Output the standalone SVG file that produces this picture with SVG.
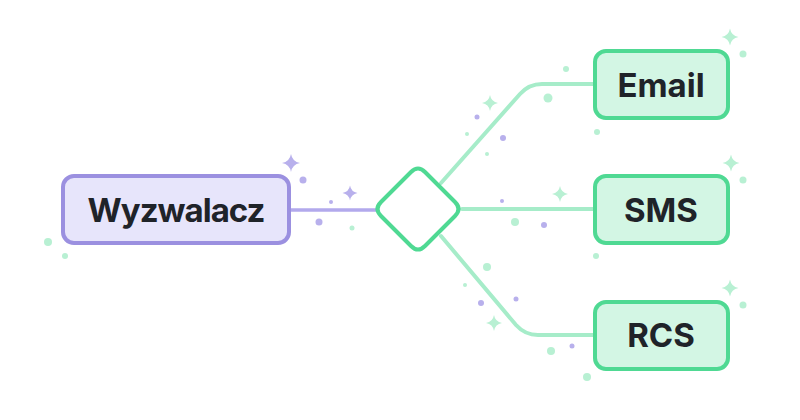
<svg xmlns="http://www.w3.org/2000/svg" width="800" height="420" viewBox="0 0 800 420">
<defs>
<style>
.lbl{font-family:Inter,"Liberation Sans",sans-serif;font-weight:700;font-size:33px;fill:#1f2329;text-anchor:middle}
.tight{letter-spacing:-1px}
.gbox{fill:#d3f6e4;stroke:#4fd993;stroke-width:4}
.pbox{fill:#e7e5fb;stroke:#9b90e0;stroke-width:4}
.gline{fill:none;stroke:#a6ecc9;stroke-width:4;stroke-linecap:round}
.pline{fill:none;stroke:#b2a9ec;stroke-width:3.5}
.gd{fill:#b8f0d3}
.pd{fill:#b8b0ec}
</style>
<path id="sp" d="M0,-1 Q0.15,-0.15 1,0 Q0.15,0.15 0,1 Q-0.15,0.15 -1,0 Q-0.15,-0.15 0,-1Z"/>
</defs>
<rect width="800" height="420" fill="#ffffff"/>
<g id="decor">
<use href="#sp" class="pd" transform="translate(291,163) scale(9)"/>
<use href="#sp" class="pd" transform="translate(350,193) scale(7.5)"/>
<circle class="pd" cx="303" cy="180" r="3.5"/>
<circle class="pd" cx="331" cy="202" r="2"/>
<circle class="pd" cx="319" cy="222" r="3.5"/>
<circle class="gd" cx="352" cy="228" r="2.5"/>
<circle class="gd" cx="48" cy="242" r="4"/>
<circle class="gd" cx="65" cy="256" r="3"/>
<circle class="gd" cx="566" cy="69" r="3"/>
<circle class="gd" cx="548" cy="98" r="4.5"/>
<use href="#sp" class="gd" transform="translate(490,103) scale(8)"/>
<circle class="pd" cx="477" cy="117" r="2.5"/>
<circle class="gd" cx="467" cy="134" r="2"/>
<circle class="pd" cx="503" cy="138" r="3"/>
<circle class="gd" cx="487" cy="154" r="2"/>
<circle class="gd" cx="597" cy="132" r="3"/>
<use href="#sp" class="gd" transform="translate(730,37) scale(8.5)"/>
<circle class="gd" cx="743" cy="54" r="3.5"/>
<use href="#sp" class="gd" transform="translate(731,163) scale(8.5)"/>
<circle class="gd" cx="743" cy="180" r="3.5"/>
<use href="#sp" class="gd" transform="translate(730,288) scale(8.5)"/>
<circle class="gd" cx="743" cy="305" r="3.5"/>
<use href="#sp" class="gd" transform="translate(560,194) scale(8)"/>
<circle class="pd" cx="502" cy="201" r="2"/>
<circle class="gd" cx="515" cy="222" r="4"/>
<circle class="pd" cx="544" cy="225" r="3"/>
<circle class="gd" cx="596" cy="256" r="3"/>
<circle class="gd" cx="487" cy="267" r="4"/>
<circle class="gd" cx="465" cy="285" r="2"/>
<circle class="pd" cx="481" cy="303" r="3"/>
<circle class="pd" cx="516" cy="299" r="2.5"/>
<use href="#sp" class="gd" transform="translate(494,323) scale(8)"/>
<circle class="gd" cx="551" cy="351" r="4"/>
<circle class="pd" cx="572" cy="346" r="2.5"/>
<circle class="gd" cx="587" cy="377" r="4"/>
</g>
<g id="connectors">
<path class="pline" d="M289,210 H376"/>
<path class="gline" d="M441,183 L520,94 Q529,84 542,84 H595"/>
<path class="gline" d="M462,209 H595"/>
<path class="gline" d="M441,236 L516,325 Q525,335 538,335 H595"/>
</g>
<g id="trigger">
<rect class="pbox" x="63" y="176" width="226" height="67" rx="11"/>
<text class="lbl tight" x="176" y="222">Wyzwalacz</text>
</g>
<g id="decision">
<path d="M411,172 Q418,165 425,172 L455,202 Q462,209 455,216 L425,246 Q418,253 411,246 L381,216 Q374,209 381,202 Z" fill="#ffffff" stroke="#4fd993" stroke-width="4"/>
</g>
<g id="email">
<rect class="gbox" x="595" y="51" width="133" height="67" rx="11"/>
<text class="lbl" x="661" y="97">Email</text>
</g>
<g id="sms">
<rect class="gbox" x="595" y="176" width="133" height="67" rx="11"/>
<text class="lbl" x="661" y="222">SMS</text>
</g>
<g id="rcs">
<rect class="gbox" x="595" y="302" width="133" height="67" rx="11"/>
<text class="lbl" x="661" y="347">RCS</text>
</g>
</svg>
